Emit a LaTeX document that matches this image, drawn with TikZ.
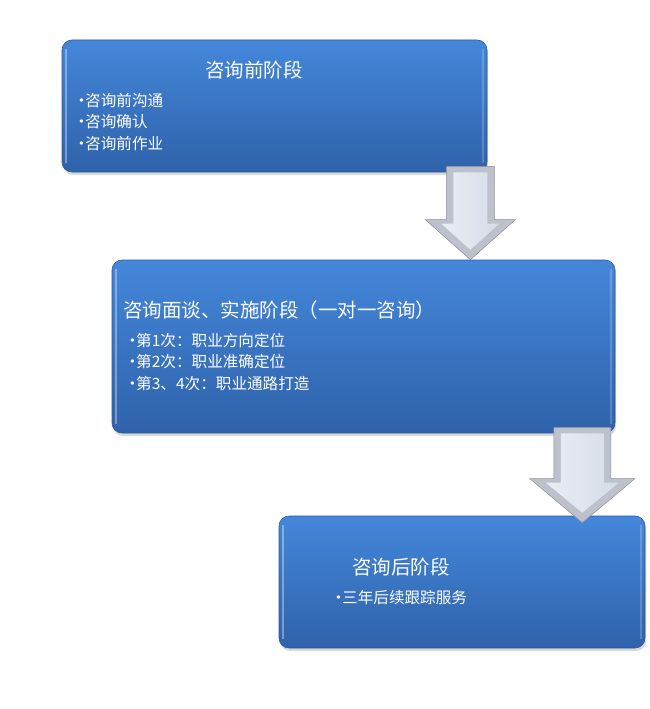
\documentclass[tikz,border=0pt]{standalone}
\usepackage{fontspec}
\newfontfamily\cjk{Noto Sans CJK SC}
\usetikzlibrary{calc,shadows,positioning}

\definecolor{stagetop}{HTML}{4487DA}
\definecolor{stagebot}{HTML}{2F62AA}
\definecolor{stageline}{HTML}{2C5A9C}
\definecolor{arrowbody}{HTML}{BCC1CB}
\definecolor{arrowline}{HTML}{8C9099}
\definecolor{arrowlite}{HTML}{EAEEF5}
\definecolor{arrowmid}{HTML}{D5DBE6}

\newcommand{\bul}{\makebox[9pt][l]{\raisebox{2.2pt}{\rmfamily\fontsize{15}{15}\selectfont\textbullet}}}
\newcommand{\blockarrow}[5]{%
  \path [bigarrow] let \p1 = (#1), \p2 = (#2) in
    (\x2-#3,\y1) -- (\x2+#3,\y1) -- (\x2+#3,\y2+#5) -- (\x2+#4,\y2+#5)
    -- (\x2,\y2) -- (\x2-#4,\y2+#5) -- (\x2-#3,\y2+#5) -- cycle;
  \path [arrowface] let \p1 = (#1), \p2 = (#2) in
    (\x2-#3+7pt,\y1-6pt) -- (\x2+#3-7pt,\y1-6pt) -- (\x2+#3-7pt,\y2+#5-4pt)
    -- (\x2+#4-16pt,\y2+#5-4pt) -- (\x2,\y2+10pt) -- (\x2-#4+16pt,\y2+#5-4pt)
    -- (\x2-#3+7pt,\y2+#5-4pt) -- cycle;
}

\begin{document}
\begin{tikzpicture}[
    x = 1pt,
    y = -1pt
  ]
  \tikzstyle{stage} = [
    draw = stageline, line width = 0.6pt,
    rectangle, rounded corners = 10pt,
    top color    = stagetop,
    bottom color = stagebot,
    drop shadow  = {opacity = 0.3, shadow xshift = 1pt, shadow yshift = -3pt},
    path picture = {
      \draw [white, opacity = 0.35, line width = 2pt]
        ($(path picture bounding box.north west)+(4pt,-9pt)$) --
        ($(path picture bounding box.south west)+(4pt,9pt)$);
      \draw [white, opacity = 0.2, line width = 1.5pt]
        ($(path picture bounding box.north east)+(-4pt,-9pt)$) --
        ($(path picture bounding box.south east)+(-4pt,9pt)$);
    }
  ]
  \tikzstyle{title} = [
    text = white, inner sep = 0pt, anchor = west,
    font = \cjk\fontsize{19.5}{23}\selectfont
  ]
  \tikzstyle{items} = [
    text = white, inner sep = 0pt, anchor = west,
    align = left,
    font = \cjk\fontsize{15.6}{21.5}\selectfont
  ]
  \tikzstyle{bigarrow}  = [draw = arrowline, line width = 0.5pt, fill = arrowbody]
  \tikzstyle{arrowface} = [left color = arrowlite, right color = arrowmid]

  \useasboundingbox (0,0) rectangle (650,709);

  \node [stage, minimum width = 425pt, minimum height = 132pt] at (274.5,106)   (stage1) {};
  \node [stage, minimum width = 503pt, minimum height = 173pt] at (363.5,346.5) (stage2) {};
  \node [stage, minimum width = 366pt, minimum height = 132pt] at (462,582)     (stage3) {};

  \node [title] at (205,70)  (title1) {咨询前阶段};
  \node [items] at (76,122)  (items1) {\bul 咨询前沟通\\\bul 咨询确认\\\bul 咨询前作业};

  \node [title] at (123,310) (title2) {咨询面谈、实施阶段（一对一咨询）};
  \node [items] at (127,362) (items2) {\bul 第1次：职业方向定位\\\bul 第2次：职业准确定位\\\bul 第3、4次：职业通路打造};

  \node [title] at (352,567) (title3) {咨询后阶段};
  \node [items] at (333,598) (items3) {\bul 三年后续跟踪服务};

  \coordinate (a1top) at ($(stage1.south east)+(-17,-6)$);
  \coordinate (a1tip) at (a1top |- stage2.north);
  \coordinate (a2top) at ($(stage2.south east)+(-33,-6)$);
  \coordinate (a2tip) at ($(a2top |- stage3.north)+(0,7)$);

  \blockarrow{a1top}{a1tip}{24pt}{45pt}{40pt}
  \blockarrow{a2top}{a2tip}{28.5pt}{52.5pt}{44pt}
\end{tikzpicture}
\end{document}
